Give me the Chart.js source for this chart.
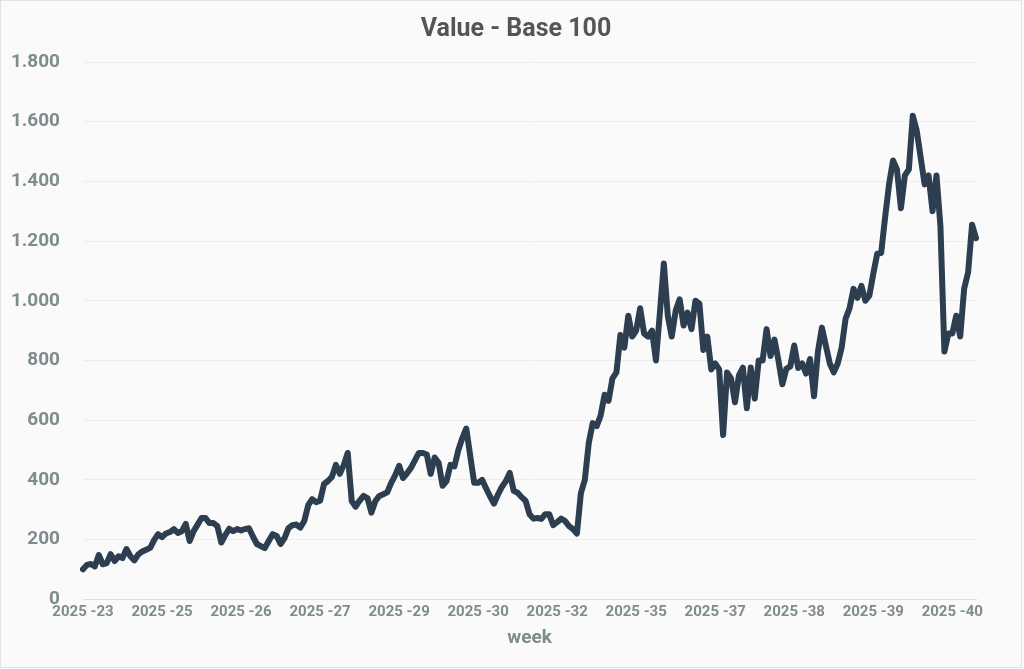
<!DOCTYPE html>
<html>
<head>
<meta charset="utf-8">
<script src="https://cdn.jsdelivr.net/npm/chart.js@4.4.1/dist/chart.umd.min.js"></script>
<style>
  html, body { margin: 0; padding: 0; background: #fafafa; }
  #wrap {
    position: absolute; left: 0; top: 0;
    width: 1020px; height: 666px;
    border: 1px solid #e2e2e2;
    background: #fafafa;
  }
</style>
</head>
<body>
<div id="wrap"><canvas id="chart"></canvas></div>
<script>
// Week labels shown on the x axis (one every POINTS_PER_TICK points)
const tickWeeks = [23, 25, 26, 27, 29, 30, 32, 35, 37, 38, 39, 40];
const POINTS_PER_TICK = 20;

// Value - Base 100
const values = [
  100, 115, 118, 110, 148, 117, 121, 151, 128, 144,
  138, 168, 144, 130, 150, 160, 166, 172, 198, 218,
  208, 220, 225, 235, 222, 228, 252, 195, 228, 250,
  272, 272, 255, 255, 245, 190, 215, 236, 228, 235,
  230, 235, 238, 210, 185, 178, 171, 195, 218, 212,
  185, 205, 238, 248, 250, 240, 262, 315, 335, 325,
  330, 386, 396, 410, 450, 420, 450, 490, 329, 310,
  330, 346, 339, 290, 329, 346, 352, 358, 390, 415,
  447, 406, 422, 440, 465, 490, 490, 485, 420, 475,
  457, 380, 396, 450, 445, 500, 540, 572, 480, 390,
  390, 400, 372, 345, 320, 350, 376, 395, 423, 363,
  357, 342, 330, 285, 270, 272, 269, 285, 285, 248,
  258, 270, 262, 245, 235, 220, 355, 400, 524, 590,
  580, 615, 685, 665, 740, 760, 885, 843, 950, 880,
  900, 975, 890, 880, 900, 800, 960, 1125, 950, 880,
  967, 1005, 917, 960, 905, 1000, 990, 835, 880, 770,
  790, 770, 550, 760, 740, 660, 750, 776, 640, 776,
  672, 800, 800, 905, 815, 870, 800, 720, 772, 780,
  850, 775, 790, 756, 805, 680, 830, 910, 850, 790,
  760, 790, 843, 940, 975, 1040, 1010, 1050, 1000, 1017,
  1090, 1158, 1160, 1280, 1390, 1470, 1440, 1310, 1420, 1440,
  1620, 1570, 1480, 1390, 1420, 1300, 1420, 1250, 830, 890,
  890, 950, 880, 1040, 1095, 1255, 1210
];

const labels = values.map((v, i) => '2025 -' + tickWeeks[Math.floor(i / POINTS_PER_TICK)]);

// 1800 -> "1.800"
const fmt = v => String(v).replace(/\B(?=(\d{3})+(?!\d))/g, '.');

const tickColor = '#7f8c8d';

new Chart(document.getElementById('chart'), {
  type: 'line',
  data: {
    labels,
    datasets: [{
      label: 'Value',
      data: values,
      borderColor: '#2c3e50',
      borderWidth: 6,
      borderJoinStyle: 'round',
      borderCapStyle: 'round',
      pointRadius: 0,
      tension: 0,
      fill: false
    }]
  },
  options: {
    responsive: true,
    maintainAspectRatio: false,
    animation: false,
    layout: { padding: { left: 10, right: 0, top: 8, bottom: 13 } },
    plugins: {
      legend: { display: false },
      tooltip: { enabled: false },
      title: {
        display: true,
        text: 'Value - Base 100',
        color: '#555555',
        font: { family: 'Roboto', size: 25, weight: 'bold' },
        padding: { top: 6, bottom: 17 }
      }
    },
    scales: {
      x: {
        grid: { display: false, drawTicks: false },
        border: { display: true, color: '#dedede' },
        ticks: {
          color: tickColor,
          font: { family: 'Roboto', size: 15, weight: 'bold' },
          autoSkip: false,
          maxRotation: 0,
          padding: 4,
          callback: (val, i) => (i % POINTS_PER_TICK === 0 ? labels[i] : '')
        },
        title: {
          display: true,
          text: 'week',
          color: tickColor,
          font: { family: 'Roboto', size: 19, weight: 'bold' },
          padding: { top: 2 }
        }
      },
      y: {
        min: 0,
        max: 1800,
        afterFit: s => { s.width = 72; },
        grid: { color: '#ededed', drawTicks: false },
        border: { display: false },
        ticks: {
          stepSize: 200,
          color: tickColor,
          font: { family: 'Roboto', size: 19, weight: 'bold' },
          padding: 23,
          callback: v => fmt(v)
        }
      },
      // empty right-hand axis that only reserves the margin right of the plot
      yRight: {
        position: 'right',
        min: 0,
        max: 1800,
        afterFit: s => { s.width = 45; },
        grid: { display: false, drawTicks: false },
        border: { display: false },
        ticks: { display: false }
      }
    }
  }
});
</script>
</body>
</html>
